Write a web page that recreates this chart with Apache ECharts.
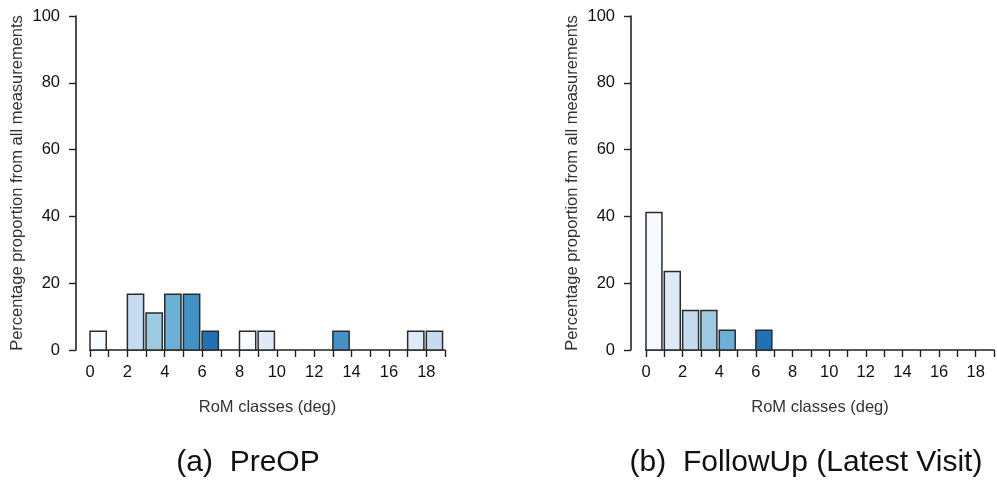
<!DOCTYPE html>
<html>
<head>
<meta charset="utf-8">
<script src="https://cdn.jsdelivr.net/npm/echarts@6/dist/echarts.min.js"></script>
<style>
html, body { margin: 0; padding: 0; background: #fff; }
#chart { width: 997px; height: 480px; }
</style>
</head>
<body>
<div id="chart"></div>
<script>
// RoM classes (deg), one bin per integer
const romClasses = [0, 1, 2, 3, 4, 5, 6, 7, 8, 9, 10, 11, 12, 13, 14, 15, 16, 17, 18];
const preOpValues = [5.6, 0, 16.7, 11.1, 16.7, 16.7, 5.6, 0, 5.6, 5.6, 0, 0, 0, 5.6, 0, 0, 0, 5.6, 5.6];
const followUpValues = [41.2, 23.5, 11.8, 11.8, 5.9, 0, 5.9, 0, 0, 0, 0, 0, 0, 0, 0, 0, 0, 0, 0];
const yTicks = [0, 20, 40, 60, 80, 100];
const captions = ['(a)  PreOP', '(b)  FollowUp (Latest Visit)'];

// fill colours, one per bin
const preOpColors = ['#f7fbff', '#f7fbff', '#c6dbef', '#9ecae1', '#6baed6', '#4292c6', '#2171b5', '#f7fbff',
    '#f7fbff', '#deebf7', '#f7fbff', '#f7fbff', '#f7fbff', '#4292c6', '#f7fbff', '#f7fbff', '#f7fbff', '#deebf7', '#c6dbef'];
const followUpColors = ['#f7fbff', '#deebf7', '#c6dbef', '#9ecae1', '#6baed6', '#f7fbff', '#2171b5', '#f7fbff',
    '#f7fbff', '#f7fbff', '#f7fbff', '#f7fbff', '#f7fbff', '#f7fbff', '#f7fbff', '#f7fbff', '#f7fbff', '#f7fbff', '#f7fbff'];

const barFrac = 0.87;
const font = '"Liberation Sans", Arial, sans-serif';
const ink = '#222';

let chart = echarts.init(document.getElementById('chart'), null, { renderer: 'canvas' });

const makeXAxis = function (idx) {
    return {
        type: 'value', gridIndex: idx, min: 0, max: 19, interval: 1,
        name: 'RoM classes (deg)', nameLocation: 'middle', nameGap: 49,
        nameTextStyle: { fontFamily: font, fontSize: 16.5, color: '#333' },
        axisLine: { show: true, onZero: false, lineStyle: { color: ink, width: 1.6 } },
        axisTick: { show: true, length: 7, lineStyle: { color: ink, width: 1.4 } },
        axisLabel: {
            margin: 14, fontFamily: font, fontSize: 16.5, color: '#111',
            formatter: function (v) { return v % 2 === 0 && v <= 18 ? String(v) : ''; }
        },
        splitLine: { show: false }
    };
};
const makeYAxis = function (idx, offset) {
    return {
        type: 'value', gridIndex: idx, min: yTicks[0], max: yTicks[yTicks.length - 1], interval: 20,
        offset: offset,
        name: 'Percentage proportion from all measurements', nameLocation: 'middle', nameGap: 50,
        nameTextStyle: { fontFamily: font, fontSize: 16.5, color: '#333' },
        axisLine: { show: true, onZero: false, lineStyle: { color: ink, width: 1.6 } },
        axisTick: { show: true, length: 7, lineStyle: { color: ink, width: 1.4 } },
        axisLabel: { margin: 16, fontFamily: font, fontSize: 16.5, color: '#111' },
        splitLine: { show: false }
    };
};
const makeSeries = function (idx, values, colors) {
    return {
        type: 'custom', xAxisIndex: idx, yAxisIndex: idx,
        data: romClasses.map((c, i) => [c, values[i], i]),
        renderItem: function (params, api) {
            const x = api.value(0), y = api.value(1);
            if (!y) return null;
            const p0 = api.coord([x, y]);
            const p1 = api.coord([x + barFrac, 0]);
            return {
                type: 'rect',
                shape: { x: p0[0], y: p0[1], width: p1[0] - p0[0], height: p1[1] - p0[1] },
                style: { fill: colors[api.value(2)], stroke: '#2b2b2b', lineWidth: 1.5 }
            };
        }
    };
};

chart.setOption({
    animation: false,
    backgroundColor: '#fff',
    grid: [
        { left: 90, top: 16, width: 355, height: 334 },
        { left: 646, top: 16, width: 355, height: 334 }
    ],
    xAxis: [makeXAxis(0), makeXAxis(1)],
    yAxis: [makeYAxis(0, 14), makeYAxis(1, 15)],
    series: [makeSeries(0, preOpValues, preOpColors), makeSeries(1, followUpValues, followUpColors)],
    graphic: [
        { type: 'text', x: 248, y: 463, style: { text: captions[0], align: 'center', verticalAlign: 'middle',
            font: '30px "Liberation Sans", Arial, sans-serif', fill: '#111' } },
        { type: 'text', x: 806, y: 463, style: { text: captions[1], align: 'center', verticalAlign: 'middle',
            font: '30px "Liberation Sans", Arial, sans-serif', fill: '#111' } }
    ]
});
</script>
</body>
</html>
